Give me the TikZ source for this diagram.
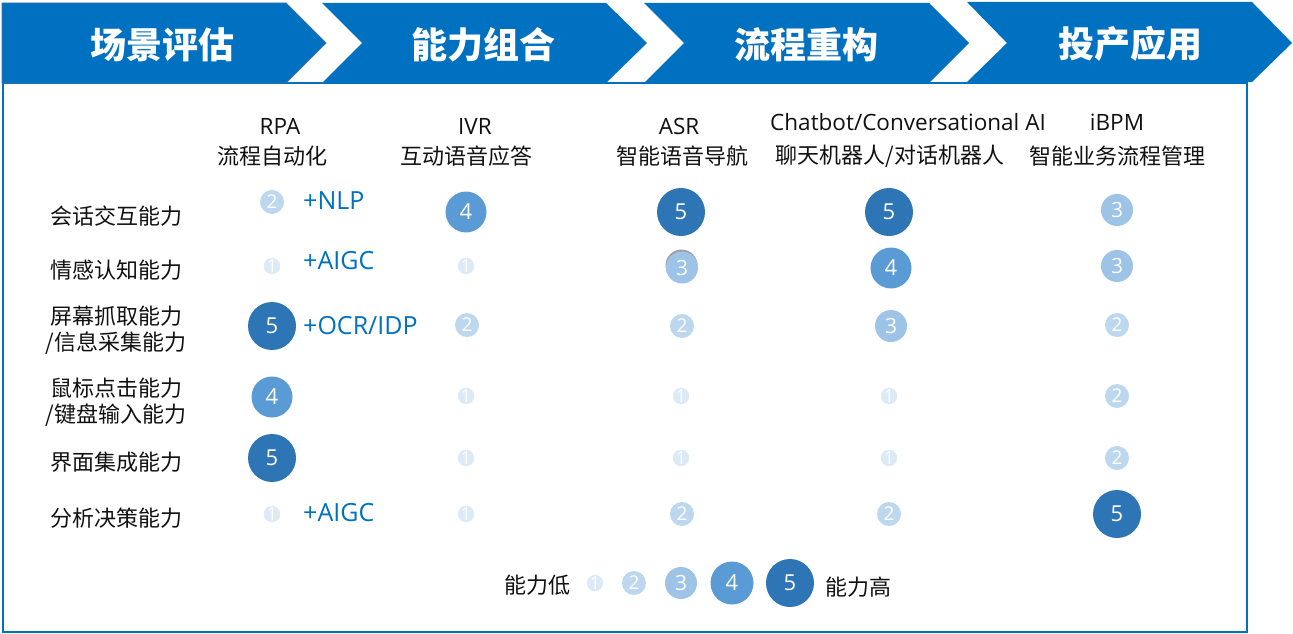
\documentclass[tikz,border=0pt]{standalone}
\usepackage{fontspec}
\setmainfont{Open Sans}
\newfontfamily\cjk{Noto Sans CJK SC}
\definecolor{mblue}{HTML}{0070C0}
\definecolor{edgeblue}{HTML}{41719C}
\definecolor{cfive}{HTML}{2E75B6}
\definecolor{cfour}{HTML}{5B9BD5}
\definecolor{cthree}{HTML}{9DC3E6}
\definecolor{ctwo}{HTML}{BDD7EE}
\definecolor{cone}{HTML}{DCE9F6}
\definecolor{txt}{HTML}{111111}
\tikzset{
  chev/.style={fill=mblue},
  titletext/.style={text=white, font=\cjk\bfseries\fontsize{36}{38}\selectfont, inner sep=0pt},
  hdrlat/.style={text=txt, font=\fontsize{22.5}{24}\selectfont, inner sep=0pt},
  hdrcjk/.style={text=txt, font=\cjk\fontsize{22}{24}\selectfont, inner sep=0pt},
  rowlab/.style={text=txt, font=\cjk\fontsize{22}{26}\selectfont, align=center, inner sep=0pt},
  plus/.style={text=mblue, font=\fontsize{25}{26}\selectfont, anchor=west, inner sep=0pt},
  lvl/.style={circle, inner sep=0pt, text=white},
  lvone/.style={lvl, fill=cone, minimum size=16pt, font=\fontsize{18}{18}\selectfont},
  lvtwo/.style={lvl, fill=ctwo, minimum size=24pt, font=\fontsize{19}{19}\selectfont},
  lvthree/.style={lvl, fill=cthree, minimum size=32pt, font=\fontsize{21}{21}\selectfont},
  lvfour/.style={lvl, fill=cfour, minimum size=41pt, font=\fontsize{22}{22}\selectfont},
  lvfive/.style={lvl, fill=cfive, minimum size=48pt, font=\fontsize{22}{22}\selectfont},
}
\begin{document}
\begin{tikzpicture}[x=1pt,y=-1pt]
\useasboundingbox (0,0) rectangle (1293,634);
% frame
\draw[mblue, line width=2.5pt] (3,83) rectangle (1247,632);
% chevrons
\fill[chev, draw=edgeblue, line width=0.8pt] (2,3) -- (286,3) -- (326,43) -- (286,83) -- (2,83) -- cycle;
\fill[chev] (322,3) -- (606,3) -- (647,43) -- (606,83) -- (322,83) -- (362,43) -- cycle;
\fill[chev] (644,3) -- (929,3) -- (969,43) -- (929,83) -- (644,83) -- (684,43) -- cycle;
\fill[chev] (967,2) -- (1252,2) -- (1292,43) -- (1252,82) -- (967,82) -- (1007,43) -- cycle;
\node[titletext] (t1) at (162,45) {场景评估};
\node[titletext] (t2) at (483,45) {能力组合};
\node[titletext] (t3) at (806,45) {流程重构};
\node[titletext] (t4) at (1130,44) {投产应用};
% headers
\node[hdrlat] (h1a) at (280,126) {RPA};
\node[hdrcjk] (h1b) at (272,156) {流程自动化};
\node[hdrlat] (h2a) at (475,126) {IVR};
\node[hdrcjk] (h2b) at (466,156) {互动语音应答};
\node[hdrlat] (h3a) at (679,126) {ASR};
\node[hdrcjk] (h3b) at (682,156) {智能语音导航};
\node[hdrlat] (h4a) at (908,122) {Chatbot/Conversational AI};
\node[hdrcjk] (h4b) at (890,156) {聊天机器人/对话机器人};
\node[hdrlat] (h5a) at (1117,122) {iBPM};
\node[hdrcjk] (h5b) at (1117,156) {智能业务流程管理};
% row labels
\node[rowlab] (r1) at (116,216) {会话交互能力};
\node[rowlab] (r2) at (116,270) {情感认知能力};
\node[rowlab] (r3) at (116,330) {屏幕抓取能力\\/信息采集能力};
\node[rowlab] (r4) at (116,402) {鼠标点击能力\\/键盘输入能力};
\node[rowlab] (r5) at (116,462) {界面集成能力};
\node[rowlab] (r6) at (116,518) {分析决策能力};
% row 1
\node[lvtwo] (a1) at (272,202) {2};
\node[plus] (p1) at (303,201) {+NLP};
\node[lvfour] (b1) at (466,212) {4};
\node[lvfive] (c1) at (681,212) {5};
\node[lvfive] (d1) at (889,212) {5};
\node[lvthree] (e1) at (1117,210) {3};
% row 2
\node[lvone] (a2) at (272,266) {1};
\node[plus] (p2) at (303,261) {+AIGC};
\node[lvone] (b2) at (466,266) {1};
\node[lvl, fill=gray!75, minimum size=32pt] (c2s) at (681.5,265.5) {};
\node[lvthree] (c2) at (682,267.5) {3};
\node[lvfour] (d2) at (891,268) {4};
\node[lvthree] (e2) at (1117,266) {3};
% row 3
\node[lvfive] (a3) at (272,326) {5};
\node[plus] (p3) at (303,326) {+OCR/IDP};
\node[lvtwo] (b3) at (467,325) {2};
\node[lvtwo] (c3) at (682,326) {2};
\node[lvthree] (d3) at (891,326) {3};
\node[lvtwo] (e3) at (1117,325) {2};
% row 4
\node[lvfour] (a4) at (272,397) {4};
\node[lvone] (b4) at (466,396) {1};
\node[lvone] (c4) at (681,396) {1};
\node[lvone] (d4) at (889,396) {1};
\node[lvtwo] (e4) at (1117,396) {2};
% row 5
\node[lvfive] (a5) at (272,458) {5};
\node[lvone] (b5) at (466,458) {1};
\node[lvone] (c5) at (681,458) {1};
\node[lvone] (d5) at (889,458) {1};
\node[lvtwo] (e5) at (1117,458) {2};
% row 6
\node[lvone] (a6) at (272,514) {1};
\node[plus] (p6) at (303,513) {+AIGC};
\node[lvone] (b6) at (466,514) {1};
\node[lvtwo] (c6) at (682,514) {2};
\node[lvtwo] (d6) at (889,514) {2};
\node[lvfive] (e6) at (1117,514) {5};
% legend
\node[rowlab] (low) at (537,585) {能力低};
\node[lvone] (g1) at (595,583) {1};
\node[lvtwo] (g2) at (634,583) {2};
\node[lvthree] (g3) at (681,583) {3};
\node[lvfour, minimum size=43pt] (g4) at (732,583) {4};
\node[lvfive] (g5) at (790,583) {5};
\node[rowlab] (high) at (858,587) {能力高};
\end{tikzpicture}
\end{document}
